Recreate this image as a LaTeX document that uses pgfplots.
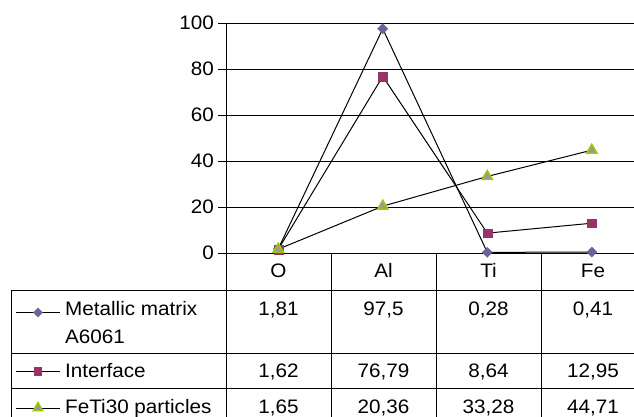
\documentclass[border=0pt]{standalone}
\usepackage{pgfplots}
\pgfplotsset{compat=1.18}
\usetikzlibrary{shapes.geometric}
\usepackage{fontspec}
\setmainfont{Liberation Sans}[FakeStretch=1.06]
\definecolor{cA}{HTML}{666699}
\definecolor{cB}{HTML}{993366}
\definecolor{cC}{HTML}{99CC00}
\definecolor{cCf}{HTML}{999999}
\begin{document}
\begin{tikzpicture}[x=1pt,y=1pt,font=\fontsize{19.5}{22}\selectfont]
\useasboundingbox (0,0) rectangle (634,416);
\begin{axis}[at={(226pt,163pt)}, anchor=south west, scale only axis,
  width=408pt, height=230pt,
  xmin=-0.5, xmax=3.404, ymin=0, ymax=100,
  ytick={0,20,...,100}, xtick=\empty,
  axis x line*=bottom, axis y line*=left,
  axis line style={-, line width=0.9pt, black},
  ymajorgrids, grid style={black, line width=0.8pt},
  tick align=outside, major tick length=8pt,
  tick style={black, line width=0.8pt},
  yticklabel style={font=\fontsize{19.5}{22}\selectfont, xshift=-0.5pt},
  /pgf/number format/assume math mode=true,
  clip=false]
\addplot[black, line width=1pt, mark=square*, mark size=3.6pt,
  mark options={rotate=45, fill=cA, draw=cA, line width=0.3pt}]
  coordinates {(0,1.81) (1,97.5) (2,0.28) (3,0.41)};
\addplot[black, line width=1pt, mark=square*, mark size=4.4pt,
  mark options={fill=cB, draw=cB, line width=0.3pt}]
  coordinates {(0,1.62) (1,76.79) (2,8.64) (3,12.95)};
\addplot[black, line width=1pt, mark=triangle*, mark size=6pt,
  mark options={fill=cCf, draw=cC, line width=1.4pt}]
  coordinates {(0,1.65) (1,20.36) (2,33.28) (3,44.71)};
\end{axis}
% table grid
\begin{scope}[line width=0.9pt]
\draw (11,126) -- (634,126);
\draw (11,63) -- (634,63);
\draw (11,28) -- (634,28);
\draw (11,126) -- (11,-2);
\draw (226,163) -- (226,-2);
\draw (331,163) -- (331,-2);
\draw (436,163) -- (436,-2);
\draw (541,163) -- (541,-2);
\end{scope}
% header
\node[anchor=base, inner sep=0] at (278.5,139) {O};
\node[anchor=base, inner sep=0] at (383.5,139) {Al};
\node[anchor=base, inner sep=0] at (488.5,139) {Ti};
\node[anchor=base, inner sep=0] at (593,139) {Fe};
% row labels
\node[anchor=base west, inner sep=0] at (65,100.5) {Metallic matrix};
\node[anchor=base west, inner sep=0] at (65,73) {A6061};
\node[anchor=base west, inner sep=0] at (65,38.7) {Interface};
\node[anchor=base west, inner sep=0] at (65,2.5) {FeTi30 particles};
% values
\node[anchor=base, inner sep=0] at (278.5,101) {1,81};
\node[anchor=base, inner sep=0] at (383.5,101) {97,5};
\node[anchor=base, inner sep=0] at (488.5,101) {0,28};
\node[anchor=base, inner sep=0] at (593,101) {0,41};
\node[anchor=base, inner sep=0] at (278.5,38.7) {1,62};
\node[anchor=base, inner sep=0] at (383.5,38.7) {76,79};
\node[anchor=base, inner sep=0] at (488.5,38.7) {8,64};
\node[anchor=base, inner sep=0] at (593,38.7) {12,95};
\node[anchor=base, inner sep=0] at (278.5,2.5) {1,65};
\node[anchor=base, inner sep=0] at (383.5,2.5) {20,36};
\node[anchor=base, inner sep=0] at (488.5,2.5) {33,28};
\node[anchor=base, inner sep=0] at (593,2.5) {44,71};
% legend keys
\draw[line width=1pt] (16,103.5) -- (60,103.5);
\draw[line width=1pt] (16,44.5) -- (60,44.5);
\draw[line width=1pt] (16,8) -- (60,8);
\node[diamond, fill=cA, inner sep=0, minimum width=10pt, minimum height=10pt] at (38,103.5) {};
\node[rectangle, fill=cB, inner sep=0, minimum size=8.5pt] at (38,44.5) {};
\node[regular polygon, regular polygon sides=3, fill=cCf, draw=cC, line width=1.4pt, inner sep=0, minimum size=11pt] at (38,8) {};
\end{tikzpicture}
\end{document}
